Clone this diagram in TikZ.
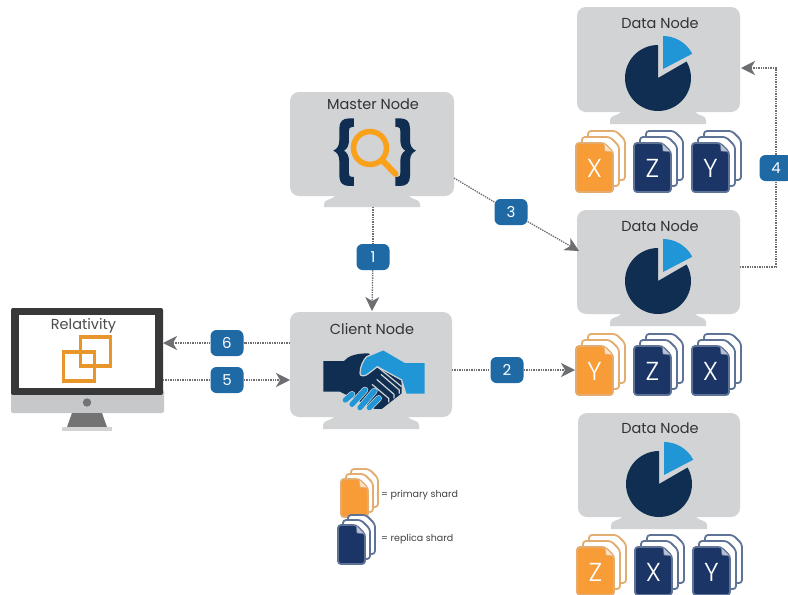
\documentclass[tikz,border=0pt]{standalone}
\usepackage{fontspec}
\setmainfont{Poppins}
\newfontfamily\lightf{Poppins Light}
\usetikzlibrary{arrows.meta}
\definecolor{mongray}{HTML}{D1D3D4}
\definecolor{navy}{HTML}{0F2E52}
\definecolor{skyb}{HTML}{2196D6}
\definecolor{badgeb}{HTML}{1F69A5}
\definecolor{arrowg}{HTML}{6D6E71}
\definecolor{orfill}{HTML}{F89C38}
\definecolor{oredge}{HTML}{E3AC70}
\definecolor{shnavy}{HTML}{1A3566}
\definecolor{shedge}{HTML}{5F7396}
\definecolor{magor}{HTML}{F9A11B}
\definecolor{relor}{HTML}{E8962A}
\tikzset{
  x=1pt,y=-1pt,
  monitor/.style={fill=mongray,rounded corners=9pt,inner sep=0pt,minimum width=#1},
  title/.style={font=\fontsize{14.5}{16}\selectfont,text=black!80,inner sep=0pt},
  badge/.style={fill=badgeb,rounded corners=6pt,text=white,minimum width=33pt,minimum height=26pt,inner sep=0pt,font=\fontsize{15}{17}\selectfont},
  conn/.style={draw=arrowg,line width=1.3pt,dash pattern=on 1.4pt off 1pt},
  connarrow/.style={conn,-{Stealth[length=14pt,width=14pt,inset=4pt,fill=arrowg]}},
  legendtext/.style={font=\fontsize{9.5}{11}\selectfont,text=black!75,inner sep=0pt,anchor=west}
}
% \stand{cx}{top}{bottom}
\newcommand{\stand}[3]{%
  \fill[mongray] (#1-37,#2) .. controls (#1-40,#2+4) and (#1-48,#2+3) .. (#1-48,#2+8)
    -- (#1-48,#3) -- (#1+48,#3) -- (#1+48,#2+8)
    .. controls (#1+48,#2+3) and (#1+40,#2+4) .. (#1+37,#2) -- cycle;
}
% \onepage{w}{h}{fill}{edge}
\newcommand{\onepage}[4]{%
  \path[fill=#3,draw=#4,line width=1.8pt,line join=round,rounded corners=3pt]
    (0,0) -- (#1-9,0) -- (#1,9) -- (#1,#2) -- (0,#2) -- cycle;
}
% \shard{name}{x}{y}{w}{h}{dx}{fill}{edge}{letter}
\newcommand{\shard}[9]{%
  \begin{scope}[shift={(#2+2*#6,#3-2*#6)}]\onepage{#4}{#5}{white}{#8}\end{scope}
  \begin{scope}[shift={(#2+#6,#3-#6)}]\onepage{#4}{#5}{white}{#8}\end{scope}
  \begin{scope}[shift={(#2,#3)}]
    \onepage{#4}{#5}{#7}{#8}
    \fill[white!70!#7,draw=#8,line width=.5pt] (#4-9,0) -- (#4,9) -- (#4-8,8) -- cycle;
    \node[text=white,font=\lightf\fontsize{26}{28}\selectfont,inner sep=0pt] (#1) at (#4/2,#5/2+1) {#9};
  \end{scope}
}
% \datapie{cx}{cy}
\newcommand{\datapie}[2]{%
  \begin{scope}[shift={(#1,#2)},x=1pt,y=1pt]
    \fill[navy] (0,0) -- (90:33) arc[start angle=90,end angle=390,radius=33pt] -- cycle;
    \begin{scope}[shift={(5,9)}]
      \fill[skyb] (0,0) -- (90:33) arc[start angle=90,end angle=27.6,radius=33pt] -- cycle;
    \end{scope}
  \end{scope}
}
% one curly brace, in the coordinates of a 3x crop
\newcommand{\bracepath}{%
  \fill[navy] (222,115) -- (208,115) .. controls (188,115) and (178,125) .. (178,145)
    -- (178,180) .. controls (178,198) and (172,206) .. (160,212)
    .. controls (172,218) and (178,226) .. (178,244)
    -- (178,288) .. controls (178,308) and (188,318) .. (208,318) -- (222,318)
    -- (222,291) -- (216,291) .. controls (209,291) and (207,287) .. (207,280)
    -- (207,244) .. controls (207,228) and (202,218) .. (192,212)
    .. controls (202,206) and (207,196) .. (207,180)
    -- (207,152) .. controls (207,145) and (209,141) .. (216,141) -- (222,141) -- cycle;
}
\begin{document}
\begin{tikzpicture}
\useasboundingbox (0,0) rectangle (788,595);

% ---- monitors
\stand{372}{196}{207}
\node[monitor=164pt,minimum height=104pt] (master) at (372,144) {};
\node[title] (mastertitle) at (373,104) {Master Node};
\stand{371}{417}{429}
\node[monitor=162pt,minimum height=105pt] (client) at (371,364.5) {};
\node[title] (clienttitle) at (372,329) {Client Node};
\stand{658}{112}{124}
\node[monitor=163pt,minimum height=105pt] (data1) at (658.5,59.5) {};
\node[title] (data1title) at (660,23) {Data Node};
\stand{658}{314}{326}
\node[monitor=163pt,minimum height=104pt] (data2) at (658.5,262) {};
\node[title] (data2title) at (660,226) {Data Node};
\stand{659}{517}{529}
\node[monitor=162pt,minimum height=104pt] (data3) at (659,465) {};
\node[title] (data3title) at (660,428) {Data Node};

% ---- master icon
\begin{scope}[shift={(280,80)},x=.3333pt,y=-.3333pt]\bracepath\end{scope}
\begin{scope}[shift={(469.33,80)},x=-.3333pt,y=-.3333pt]\bracepath\end{scope}
\draw[magor,line width=5.5pt] (370,148) circle[radius=16.5pt];
\draw[magor,line width=6pt,line cap=round] (383,161) -- (395.5,174);

% ---- handshake (coordinates of a 3x crop)
\begin{scope}[shift={(320,345)},x=.3333pt,y=-.3333pt]
  \fill[navy] (10,48) -- (72,48) .. controls (85,32) and (110,25) .. (145,25)
    -- (245,105) -- (245,145) -- (185,192) -- (165,192) -- (60,140) -- (10,140) -- cycle;
  \draw[fill=skyb,draw=mongray,line width=1.2pt,line join=round]
    (120,85) .. controls (120,65) and (130,45) .. (140,35) -- (190,14) -- (255,52) -- (316,52)
    -- (316,148) -- (258,148) -- (245,105) -- (172,65) -- (145,86) .. controls (135,95) and (120,95) .. (120,85) -- cycle;
  \begin{scope}[mongray,line width=1.2pt]
    \draw (183,88) -- (238,135) -- (238,146);
    \draw (170,103) -- (222,148) -- (222,160);
    \draw (156,118) -- (206,160) -- (206,172);
    \draw (172,65) -- (245,125);
  \end{scope}
  \foreach \a/\b/\c/\d in {76/165/96/148, 96/178/135/135, 120/188/163/138, 148/188/176/160}{
    \draw[mongray,line width=6.6pt,line cap=round] (\a,\b) -- (\c,\d);
    \draw[skyb,line width=5.2pt,line cap=round] (\a,\b) -- (\c,\d);
  }
\end{scope}

% ---- pies
\datapie{658}{78}
\datapie{658}{281}
\datapie{659}{484}

% ---- shards
\shard{s1x}{576}{143}{37}{49}{6}{orfill}{oredge}{X}
\shard{s1z}{634}{143}{37}{49}{6}{shnavy}{shedge}{Z}
\shard{s1y}{692}{143}{37}{49}{6}{shnavy}{shedge}{Y}
\shard{s2y}{576}{346}{37}{49}{6}{orfill}{oredge}{Y}
\shard{s2z}{634}{346}{37}{49}{6}{shnavy}{shedge}{Z}
\shard{s2x}{692}{346}{37}{49}{6}{shnavy}{shedge}{X}
\shard{s3z}{577}{547}{37}{48}{6}{orfill}{oredge}{Z}
\shard{s3x}{635}{547}{37}{48}{6}{shnavy}{shedge}{X}
\shard{s3y}{693}{547}{37}{48}{6}{shnavy}{shedge}{Y}

% ---- legend
\shard{lp}{341}{479}{27}{38}{5}{orfill}{oredge}{}
\shard{lr}{338}{525}{27}{39}{5}{shnavy}{shedge}{}
\node[legendtext] (lptext) at (381,495) {= primary shard};
\node[legendtext] (lrtext) at (381,539) {= replica shard};

% ---- relativity monitor
\fill[mongray!95!black,rounded corners=2pt] (11,390) rectangle (164,413);
\fill[black!78,rounded corners=2pt] (11,308) rectangle (163,395);
\fill[mongray!95!black] (11,395) rectangle (163,408);
\fill[white] (19,315) rectangle (155,388);
\fill[black!55] (87,402.5) circle[radius=4.2pt];
\fill[black!55] (72,413) -- (102,413) -- (107,427) -- (67,427) -- cycle;
\fill[mongray] (62,427) rectangle (112,431);
\node[inner sep=0pt,text=black!70,font=\fontsize{14.5}{16}\selectfont] (relativity) at (83.5,326) {Relativity};
\draw[relor,line width=3.5pt] (80.5,337) rectangle (110.5,366);
\draw[relor,line width=3.5pt] (63.5,352) rectangle (94.5,381);

% ---- badges
\node[badge] (b1) at (373,257) {1};
\node[badge] (b2) at (507,370) {2};
\node[badge] (b3) at (511,212) {3};
\node[badge] (b4) at (776,168) {4};
\node[badge] (b5) at (227,380) {5};
\node[badge] (b6) at (227,343) {6};

% ---- connector ends
\coordinate (masterbottom) at (373,207);
\coordinate (clienttop) at (372,311);
\coordinate (clientout) at (452,370);
\coordinate (s2yin) at (575,370);
\coordinate (masterout) at (454,178);
\coordinate (data2in) at (579,251);
\coordinate (data2out) at (740,267);
\coordinate (corner4a) at (776,267);
\coordinate (corner4b) at (776,68);
\coordinate (data1in) at (741,68);
\coordinate (clientw6) at (290,343);
\coordinate (relin) at (163,343);
\coordinate (relout) at (163,380);
\coordinate (clientw5) at (290,380);

% ---- connectors
\draw[conn] (masterbottom) -- (b1);
\draw[connarrow] (b1) -- (clienttop);
\draw[conn] (clientout) -- (b2);
\draw[connarrow] (b2) -- (s2yin);
\draw[conn] (masterout) -- (b3);
\draw[connarrow] (b3) -- (data2in);
\draw[conn] (data2out) -- (corner4a) -- (b4);
\draw[connarrow] (b4) -- (corner4b) -- (data1in);
\draw[conn] (clientw6) -- (b6);
\draw[connarrow] (b6) -- (relin);
\draw[conn] (relout) -- (b5);
\draw[connarrow] (b5) -- (clientw5);
\end{tikzpicture}
\end{document}
